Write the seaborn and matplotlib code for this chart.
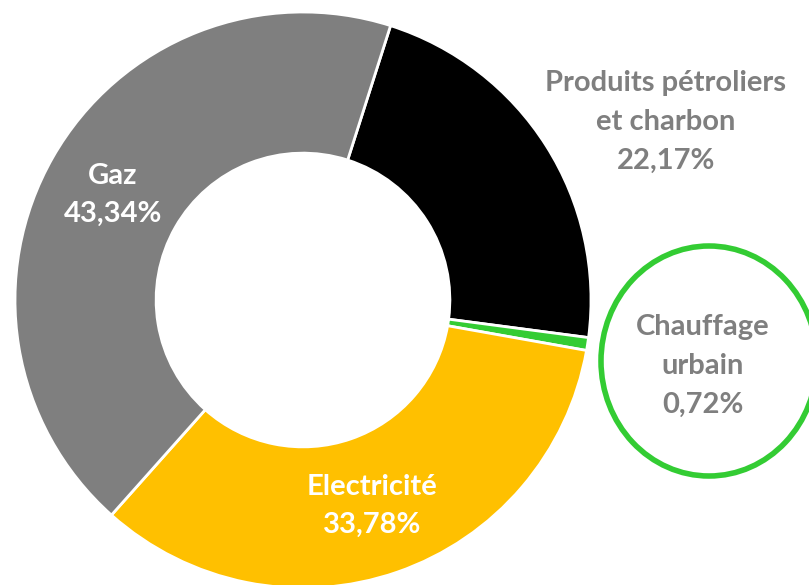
import matplotlib
matplotlib.use("Agg")
import matplotlib.pyplot as plt
import seaborn as sns
from matplotlib.patches import Ellipse

# data (clockwise order from the top)
categories = ["Produits pétroliers\net charbon", "Chauffage\nurbain", "Electricité", "Gaz"]
shares = [22.17, 0.72, 33.78, 43.34]
colors = ["#000000", "#33cc33", "#ffc000", "#7f7f7f"]
label_colors = ["#7f7f7f", "#7f7f7f", "white", "white"]
# label centres in pixel coords of the 809x585 picture
label_px = [(666, 122), (703, 366), (372, 506), (113, 195)]

sns.set_theme(style="white")
plt.rcParams['font.family'] = ['Lato', 'DejaVu Sans']

W, H = 809, 585
CX, CY = 303, 300
R = 288

fig = plt.figure(figsize=(W / 100, H / 100), dpi=100)
ax = fig.add_axes([0, 0, 1, 1])

ax.pie(shares, colors=colors, radius=R, center=(0, 0), startangle=72.3,
       counterclock=False,
       wedgeprops=dict(width=R * 0.49, edgecolor="white", linewidth=2))

for cat, val, (px, py), c in zip(categories, shares, label_px, label_colors):
    txt = f"{cat}\n{val:.2f}%".replace(".", ",")
    ax.text(px - CX, CY - py, txt, ha="center", va="center", color=c,
            fontsize=21, fontweight="bold", linespacing=1.6)

# green highlight around the tiny slice label
ax.add_patch(Ellipse((709 - CX, CY - 361), 216, 230, fill=False,
                     edgecolor="#33cc33", linewidth=4))

ax.set_xlim(-CX, W - CX)
ax.set_ylim(-(H - CY), CY)
ax.set_aspect("equal")
ax.axis("off")

fig.savefig("out.png", dpi=100)
